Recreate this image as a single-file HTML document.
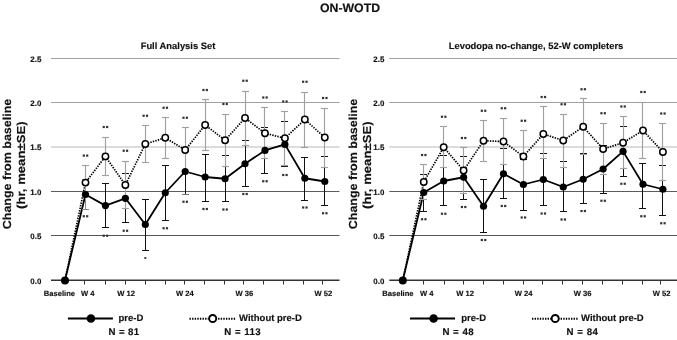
<!DOCTYPE html>
<html><head><meta charset="utf-8"><style>
html,body{margin:0;padding:0;background:#fff;width:677px;height:340px;overflow:hidden;}
svg{display:block;will-change:transform;font-family:"Liberation Sans", sans-serif;}
text{stroke:#111;stroke-width:0.15px;text-rendering:geometricPrecision;}
</style></head><body>
<svg width="677" height="340" viewBox="0 0 677 340" font-family='"Liberation Sans", sans-serif' fill="#111" stroke="none"><text x="350" y="11.5" text-anchor="middle" font-size="12.3" font-weight="bold">ON-WOTD</text>
<line x1="51" y1="58.5" x2="339.5" y2="58.5" stroke="#a0a0a0" stroke-width="1.2"/>
<line x1="51" y1="102.5" x2="339.5" y2="102.5" stroke="#a0a0a0" stroke-width="1.2"/>
<line x1="51" y1="147" x2="339.5" y2="147" stroke="#dcdcdc" stroke-width="1.9"/>
<line x1="51" y1="191.5" x2="339.5" y2="191.5" stroke="#5c5c5c" stroke-width="1"/>
<line x1="51" y1="235.5" x2="339.5" y2="235.5" stroke="#555" stroke-width="1"/>
<line x1="51" y1="280.2" x2="339.5" y2="280.2" stroke="#333" stroke-width="1.4"/>
<line x1="84.5" y1="280.2" x2="84.5" y2="284.5" stroke="#333" stroke-width="1"/>
<line x1="105.5" y1="280.2" x2="105.5" y2="284.5" stroke="#333" stroke-width="1"/>
<line x1="125.5" y1="280.2" x2="125.5" y2="284.5" stroke="#333" stroke-width="1"/>
<line x1="145.5" y1="280.2" x2="145.5" y2="284.5" stroke="#333" stroke-width="1"/>
<line x1="165.5" y1="280.2" x2="165.5" y2="284.5" stroke="#333" stroke-width="1"/>
<line x1="184.5" y1="280.2" x2="184.5" y2="284.5" stroke="#333" stroke-width="1"/>
<line x1="204.5" y1="280.2" x2="204.5" y2="284.5" stroke="#333" stroke-width="1"/>
<line x1="224.5" y1="280.2" x2="224.5" y2="284.5" stroke="#333" stroke-width="1"/>
<line x1="243.5" y1="280.2" x2="243.5" y2="284.5" stroke="#333" stroke-width="1"/>
<line x1="263.5" y1="280.2" x2="263.5" y2="284.5" stroke="#333" stroke-width="1"/>
<line x1="283.5" y1="280.2" x2="283.5" y2="284.5" stroke="#333" stroke-width="1"/>
<line x1="303.5" y1="280.2" x2="303.5" y2="284.5" stroke="#333" stroke-width="1"/>
<line x1="322.5" y1="280.2" x2="322.5" y2="284.5" stroke="#333" stroke-width="1"/>
<text x="41.3" y="61.8" text-anchor="end" font-size="7.9" font-weight="bold">2.5</text>
<text x="41.3" y="105.8" text-anchor="end" font-size="7.9" font-weight="bold">2.0</text>
<text x="41.3" y="150.2" text-anchor="end" font-size="7.9" font-weight="bold">1.5</text>
<text x="41.3" y="194.8" text-anchor="end" font-size="7.9" font-weight="bold">1.0</text>
<text x="41.3" y="238.8" text-anchor="end" font-size="7.9" font-weight="bold">0.5</text>
<text x="41.3" y="283.5" text-anchor="end" font-size="7.9" font-weight="bold">0.0</text>
<text x="178" y="48.8" text-anchor="middle" font-size="9.4" font-weight="bold">Full Analysis Set</text>
<text transform="translate(10.5,164) rotate(-90)" text-anchor="middle" font-size="11.6" font-weight="bold" textLength="130.5" lengthAdjust="spacingAndGlyphs">Change from baseline</text>
<text transform="translate(25.0,165.2) rotate(-90)" text-anchor="middle" font-size="11.6" font-weight="bold" textLength="87.5" lengthAdjust="spacingAndGlyphs">(hr, mean±SE)</text>
<text x="59.4" y="296.2" text-anchor="middle" font-size="7.6" font-weight="bold">Baseline</text>
<text x="87.7" y="296.2" text-anchor="middle" font-size="7.6" font-weight="bold">W 4</text>
<text x="126.2" y="296.2" text-anchor="middle" font-size="7.6" font-weight="bold">W 12</text>
<text x="184.9" y="296.2" text-anchor="middle" font-size="7.6" font-weight="bold">W 24</text>
<text x="244.4" y="296.2" text-anchor="middle" font-size="7.6" font-weight="bold">W 36</text>
<text x="323.3" y="296.2" text-anchor="middle" font-size="7.6" font-weight="bold">W 52</text>
<polyline fill="none" stroke="#000" stroke-width="1.8" stroke-linejoin="round" points="65,280.2 85.5,194.5 105.44,205.6 125.38,198.3 145.32,224.5 165.26,192.75 185.2,171.5 205.14,177 225.08,178.75 245.02,163.75 264.96,150.4 284.9,144.4 304.84,178.25 324.78,181.5"/>
<line x1="85.5" y1="179.8" x2="85.5" y2="209.2" stroke="#8a8a8a" stroke-width="1"/>
<line x1="82" y1="179.5" x2="89" y2="179.5" stroke="#8a8a8a" stroke-width="1"/>
<line x1="82" y1="209.5" x2="89" y2="209.5" stroke="#8a8a8a" stroke-width="1"/>
<line x1="105.5" y1="183.6" x2="105.5" y2="227.5" stroke="#111" stroke-width="1"/>
<line x1="102" y1="183.5" x2="109" y2="183.5" stroke="#111" stroke-width="1"/>
<line x1="102" y1="227.5" x2="109" y2="227.5" stroke="#111" stroke-width="1"/>
<line x1="125.5" y1="173.8" x2="125.5" y2="222.75" stroke="#111" stroke-width="1"/>
<line x1="122" y1="173.5" x2="129" y2="173.5" stroke="#111" stroke-width="1"/>
<line x1="122" y1="222.5" x2="129" y2="222.5" stroke="#111" stroke-width="1"/>
<line x1="145.5" y1="199.3" x2="145.5" y2="250.25" stroke="#111" stroke-width="1"/>
<line x1="142" y1="199.5" x2="149" y2="199.5" stroke="#111" stroke-width="1"/>
<line x1="142" y1="250.5" x2="149" y2="250.5" stroke="#111" stroke-width="1"/>
<line x1="165.5" y1="165.5" x2="165.5" y2="220.25" stroke="#111" stroke-width="1"/>
<line x1="162" y1="165.5" x2="169" y2="165.5" stroke="#111" stroke-width="1"/>
<line x1="162" y1="220.5" x2="169" y2="220.5" stroke="#111" stroke-width="1"/>
<line x1="185.5" y1="149" x2="185.5" y2="194" stroke="#111" stroke-width="1"/>
<line x1="182" y1="149.5" x2="189" y2="149.5" stroke="#777" stroke-width="1"/>
<line x1="182" y1="194.5" x2="189" y2="194.5" stroke="#777" stroke-width="1"/>
<line x1="205.5" y1="154.5" x2="205.5" y2="201" stroke="#111" stroke-width="1"/>
<line x1="202" y1="154.5" x2="209" y2="154.5" stroke="#111" stroke-width="1"/>
<line x1="202" y1="201.5" x2="209" y2="201.5" stroke="#111" stroke-width="1"/>
<line x1="225.5" y1="155.75" x2="225.5" y2="201.5" stroke="#111" stroke-width="1"/>
<line x1="222" y1="155.5" x2="229" y2="155.5" stroke="#111" stroke-width="1"/>
<line x1="222" y1="201.5" x2="229" y2="201.5" stroke="#111" stroke-width="1"/>
<line x1="245.5" y1="140.75" x2="245.5" y2="186.75" stroke="#111" stroke-width="1"/>
<line x1="242" y1="140.5" x2="249" y2="140.5" stroke="#111" stroke-width="1"/>
<line x1="242" y1="186.5" x2="249" y2="186.5" stroke="#111" stroke-width="1"/>
<line x1="264.5" y1="127.5" x2="264.5" y2="173.25" stroke="#111" stroke-width="1"/>
<line x1="261" y1="127.5" x2="268" y2="127.5" stroke="#111" stroke-width="1"/>
<line x1="261" y1="173.5" x2="268" y2="173.5" stroke="#111" stroke-width="1"/>
<line x1="284.5" y1="121" x2="284.5" y2="166.75" stroke="#111" stroke-width="1"/>
<line x1="281" y1="121.5" x2="288" y2="121.5" stroke="#111" stroke-width="1"/>
<line x1="281" y1="166.5" x2="288" y2="166.5" stroke="#111" stroke-width="1"/>
<line x1="304.5" y1="157.75" x2="304.5" y2="200.25" stroke="#111" stroke-width="1"/>
<line x1="301" y1="157.5" x2="308" y2="157.5" stroke="#111" stroke-width="1"/>
<line x1="301" y1="200.5" x2="308" y2="200.5" stroke="#111" stroke-width="1"/>
<line x1="324.5" y1="156" x2="324.5" y2="205.25" stroke="#111" stroke-width="1"/>
<line x1="321" y1="156.5" x2="328" y2="156.5" stroke="#111" stroke-width="1"/>
<line x1="321" y1="205.5" x2="328" y2="205.5" stroke="#111" stroke-width="1"/>
<polyline fill="none" stroke="#000" stroke-width="1.7" stroke-dasharray="1.4 1.2" points="65,280.2 85.5,182.6 105.44,156.4 125.38,185 145.32,144 165.26,137.75 185.2,150 205.14,125 225.08,140.25 245.02,118 264.96,133.25 284.9,138.25 304.84,119.5 324.78,137.5"/>
<line x1="85.5" y1="165.9" x2="85.5" y2="199.3" stroke="#a0a0a0" stroke-width="1.15"/>
<line x1="82" y1="165.5" x2="89" y2="165.5" stroke="#a0a0a0" stroke-width="1.15"/>
<line x1="105.5" y1="137" x2="105.5" y2="175.8" stroke="#a0a0a0" stroke-width="1.15"/>
<line x1="102" y1="137.5" x2="109" y2="137.5" stroke="#a0a0a0" stroke-width="1.15"/>
<line x1="102" y1="175.5" x2="109" y2="175.5" stroke="#a0a0a0" stroke-width="1.15"/>
<line x1="125.5" y1="161.25" x2="125.5" y2="208.75" stroke="#a0a0a0" stroke-width="1.15"/>
<line x1="122" y1="161.5" x2="129" y2="161.5" stroke="#a0a0a0" stroke-width="1.15"/>
<line x1="122" y1="208.5" x2="129" y2="208.5" stroke="#a0a0a0" stroke-width="1.15"/>
<line x1="145.5" y1="125.5" x2="145.5" y2="162.5" stroke="#a0a0a0" stroke-width="1.15"/>
<line x1="142" y1="125.5" x2="149" y2="125.5" stroke="#a0a0a0" stroke-width="1.15"/>
<line x1="142" y1="162.5" x2="149" y2="162.5" stroke="#a0a0a0" stroke-width="1.15"/>
<line x1="165.5" y1="117.5" x2="165.5" y2="158" stroke="#a0a0a0" stroke-width="1.15"/>
<line x1="162" y1="117.5" x2="169" y2="117.5" stroke="#a0a0a0" stroke-width="1.15"/>
<line x1="162" y1="158.5" x2="169" y2="158.5" stroke="#a0a0a0" stroke-width="1.15"/>
<line x1="185.5" y1="127.25" x2="185.5" y2="172.75" stroke="#a0a0a0" stroke-width="1.15"/>
<line x1="182" y1="127.5" x2="189" y2="127.5" stroke="#a0a0a0" stroke-width="1.15"/>
<line x1="182" y1="172.5" x2="189" y2="172.5" stroke="#a0a0a0" stroke-width="1.15"/>
<line x1="205.5" y1="99.5" x2="205.5" y2="150.5" stroke="#a0a0a0" stroke-width="1.15"/>
<line x1="202" y1="99.5" x2="209" y2="99.5" stroke="#a0a0a0" stroke-width="1.15"/>
<line x1="202" y1="150.5" x2="209" y2="150.5" stroke="#a0a0a0" stroke-width="1.15"/>
<line x1="225.5" y1="114" x2="225.5" y2="166.5" stroke="#a0a0a0" stroke-width="1.15"/>
<line x1="222" y1="114.5" x2="229" y2="114.5" stroke="#a0a0a0" stroke-width="1.15"/>
<line x1="222" y1="166.5" x2="229" y2="166.5" stroke="#a0a0a0" stroke-width="1.15"/>
<line x1="245.5" y1="91" x2="245.5" y2="145" stroke="#a0a0a0" stroke-width="1.15"/>
<line x1="242" y1="91.5" x2="249" y2="91.5" stroke="#a0a0a0" stroke-width="1.15"/>
<line x1="242" y1="145.5" x2="249" y2="145.5" stroke="#a0a0a0" stroke-width="1.15"/>
<line x1="264.5" y1="107.75" x2="264.5" y2="158.75" stroke="#a0a0a0" stroke-width="1.15"/>
<line x1="261" y1="107.5" x2="268" y2="107.5" stroke="#a0a0a0" stroke-width="1.15"/>
<line x1="261" y1="158.5" x2="268" y2="158.5" stroke="#a0a0a0" stroke-width="1.15"/>
<line x1="284.5" y1="111.25" x2="284.5" y2="165.25" stroke="#a0a0a0" stroke-width="1.15"/>
<line x1="281" y1="111.5" x2="288" y2="111.5" stroke="#a0a0a0" stroke-width="1.15"/>
<line x1="281" y1="165.5" x2="288" y2="165.5" stroke="#a0a0a0" stroke-width="1.15"/>
<line x1="304.5" y1="92" x2="304.5" y2="147" stroke="#a0a0a0" stroke-width="1.15"/>
<line x1="301" y1="92.5" x2="308" y2="92.5" stroke="#a0a0a0" stroke-width="1.15"/>
<line x1="301" y1="147.5" x2="308" y2="147.5" stroke="#a0a0a0" stroke-width="1.15"/>
<line x1="324.5" y1="108" x2="324.5" y2="167" stroke="#a0a0a0" stroke-width="1.15"/>
<line x1="321" y1="108.5" x2="328" y2="108.5" stroke="#a0a0a0" stroke-width="1.15"/>
<line x1="321" y1="167.5" x2="328" y2="167.5" stroke="#a0a0a0" stroke-width="1.15"/>
<circle cx="65" cy="280.4" r="4" fill="#000"/>
<circle cx="85.5" cy="194.5" r="3.6" fill="#000"/>
<circle cx="105.44" cy="205.6" r="3.6" fill="#000"/>
<circle cx="125.38" cy="198.3" r="3.6" fill="#000"/>
<circle cx="145.32" cy="224.5" r="3.6" fill="#000"/>
<circle cx="165.26" cy="192.75" r="3.6" fill="#000"/>
<circle cx="185.2" cy="171.5" r="3.6" fill="#000"/>
<circle cx="205.14" cy="177" r="3.6" fill="#000"/>
<circle cx="225.08" cy="178.75" r="3.6" fill="#000"/>
<circle cx="245.02" cy="163.75" r="3.6" fill="#000"/>
<circle cx="264.96" cy="150.4" r="3.6" fill="#000"/>
<circle cx="284.9" cy="144.4" r="3.6" fill="#000"/>
<circle cx="304.84" cy="178.25" r="3.6" fill="#000"/>
<circle cx="324.78" cy="181.5" r="3.6" fill="#000"/>
<circle cx="85.5" cy="182.6" r="3.2" fill="#fff" stroke="#000" stroke-width="1.5"/>
<circle cx="105.44" cy="156.4" r="3.2" fill="#fff" stroke="#000" stroke-width="1.5"/>
<circle cx="125.38" cy="185" r="3.2" fill="#fff" stroke="#000" stroke-width="1.5"/>
<circle cx="145.32" cy="144" r="3.2" fill="#fff" stroke="#000" stroke-width="1.5"/>
<circle cx="165.26" cy="137.75" r="3.2" fill="#fff" stroke="#000" stroke-width="1.5"/>
<circle cx="185.2" cy="150" r="3.2" fill="#fff" stroke="#000" stroke-width="1.5"/>
<circle cx="205.14" cy="125" r="3.2" fill="#fff" stroke="#000" stroke-width="1.5"/>
<circle cx="225.08" cy="140.25" r="3.2" fill="#fff" stroke="#000" stroke-width="1.5"/>
<circle cx="245.02" cy="118" r="3.2" fill="#fff" stroke="#000" stroke-width="1.5"/>
<circle cx="264.96" cy="133.25" r="3.2" fill="#fff" stroke="#000" stroke-width="1.5"/>
<circle cx="284.9" cy="138.25" r="3.2" fill="#fff" stroke="#000" stroke-width="1.5"/>
<circle cx="304.84" cy="119.5" r="3.2" fill="#fff" stroke="#000" stroke-width="1.5"/>
<circle cx="324.78" cy="137.5" r="3.2" fill="#fff" stroke="#000" stroke-width="1.5"/>
<rect x="82.7" y="215.15" width="2.2" height="2.2" fill="#333"/>
<rect x="86.1" y="215.15" width="2.2" height="2.2" fill="#333"/>
<rect x="82.7" y="154.5" width="2.2" height="2.2" fill="#333"/>
<rect x="86.1" y="154.5" width="2.2" height="2.2" fill="#333"/>
<rect x="102.64" y="234.65" width="2.2" height="2.2" fill="#333"/>
<rect x="106.04" y="234.65" width="2.2" height="2.2" fill="#333"/>
<rect x="102.64" y="125.9" width="2.2" height="2.2" fill="#333"/>
<rect x="106.04" y="125.9" width="2.2" height="2.2" fill="#333"/>
<rect x="122.58" y="229.65" width="2.2" height="2.2" fill="#333"/>
<rect x="125.98" y="229.65" width="2.2" height="2.2" fill="#333"/>
<rect x="122.58" y="149.65" width="2.2" height="2.2" fill="#333"/>
<rect x="125.98" y="149.65" width="2.2" height="2.2" fill="#333"/>
<rect x="144.32" y="257" width="2" height="2" fill="#444"/>
<rect x="142.52" y="114.65" width="2.2" height="2.2" fill="#333"/>
<rect x="145.92" y="114.65" width="2.2" height="2.2" fill="#333"/>
<rect x="162.46" y="227.15" width="2.2" height="2.2" fill="#333"/>
<rect x="165.86" y="227.15" width="2.2" height="2.2" fill="#333"/>
<rect x="162.46" y="106.65" width="2.2" height="2.2" fill="#333"/>
<rect x="165.86" y="106.65" width="2.2" height="2.2" fill="#333"/>
<rect x="182.4" y="200.65" width="2.2" height="2.2" fill="#333"/>
<rect x="185.8" y="200.65" width="2.2" height="2.2" fill="#333"/>
<rect x="182.4" y="116.65" width="2.2" height="2.2" fill="#333"/>
<rect x="185.8" y="116.65" width="2.2" height="2.2" fill="#333"/>
<rect x="202.34" y="207.9" width="2.2" height="2.2" fill="#333"/>
<rect x="205.74" y="207.9" width="2.2" height="2.2" fill="#333"/>
<rect x="202.34" y="88.9" width="2.2" height="2.2" fill="#333"/>
<rect x="205.74" y="88.9" width="2.2" height="2.2" fill="#333"/>
<rect x="222.28" y="208.4" width="2.2" height="2.2" fill="#333"/>
<rect x="225.68" y="208.4" width="2.2" height="2.2" fill="#333"/>
<rect x="222.28" y="102.9" width="2.2" height="2.2" fill="#333"/>
<rect x="225.68" y="102.9" width="2.2" height="2.2" fill="#333"/>
<rect x="242.22" y="192.9" width="2.2" height="2.2" fill="#333"/>
<rect x="245.62" y="192.9" width="2.2" height="2.2" fill="#333"/>
<rect x="242.22" y="79.65" width="2.2" height="2.2" fill="#333"/>
<rect x="245.62" y="79.65" width="2.2" height="2.2" fill="#333"/>
<rect x="262.16" y="180.15" width="2.2" height="2.2" fill="#333"/>
<rect x="265.56" y="180.15" width="2.2" height="2.2" fill="#333"/>
<rect x="262.16" y="96.4" width="2.2" height="2.2" fill="#333"/>
<rect x="265.56" y="96.4" width="2.2" height="2.2" fill="#333"/>
<rect x="282.1" y="173.9" width="2.2" height="2.2" fill="#333"/>
<rect x="285.5" y="173.9" width="2.2" height="2.2" fill="#333"/>
<rect x="282.1" y="100.4" width="2.2" height="2.2" fill="#333"/>
<rect x="285.5" y="100.4" width="2.2" height="2.2" fill="#333"/>
<rect x="302.04" y="206.4" width="2.2" height="2.2" fill="#333"/>
<rect x="305.44" y="206.4" width="2.2" height="2.2" fill="#333"/>
<rect x="302.04" y="80.65" width="2.2" height="2.2" fill="#333"/>
<rect x="305.44" y="80.65" width="2.2" height="2.2" fill="#333"/>
<rect x="321.98" y="212.15" width="2.2" height="2.2" fill="#333"/>
<rect x="325.38" y="212.15" width="2.2" height="2.2" fill="#333"/>
<rect x="321.98" y="96.9" width="2.2" height="2.2" fill="#333"/>
<rect x="325.38" y="96.9" width="2.2" height="2.2" fill="#333"/>
<line x1="389.3" y1="58.5" x2="677" y2="58.5" stroke="#a0a0a0" stroke-width="1.2"/>
<line x1="389.3" y1="102.5" x2="677" y2="102.5" stroke="#a0a0a0" stroke-width="1.2"/>
<line x1="389.3" y1="147" x2="677" y2="147" stroke="#dcdcdc" stroke-width="1.9"/>
<line x1="389.3" y1="191.5" x2="677" y2="191.5" stroke="#5c5c5c" stroke-width="1"/>
<line x1="389.3" y1="235.5" x2="677" y2="235.5" stroke="#555" stroke-width="1"/>
<line x1="389.3" y1="280.2" x2="677" y2="280.2" stroke="#333" stroke-width="1.4"/>
<line x1="423.5" y1="280.2" x2="423.5" y2="284.5" stroke="#333" stroke-width="1"/>
<line x1="444.5" y1="280.2" x2="444.5" y2="284.5" stroke="#333" stroke-width="1"/>
<line x1="463.5" y1="280.2" x2="463.5" y2="284.5" stroke="#333" stroke-width="1"/>
<line x1="483.5" y1="280.2" x2="483.5" y2="284.5" stroke="#333" stroke-width="1"/>
<line x1="503.5" y1="280.2" x2="503.5" y2="284.5" stroke="#333" stroke-width="1"/>
<line x1="523.5" y1="280.2" x2="523.5" y2="284.5" stroke="#333" stroke-width="1"/>
<line x1="542.5" y1="280.2" x2="542.5" y2="284.5" stroke="#333" stroke-width="1"/>
<line x1="562.5" y1="280.2" x2="562.5" y2="284.5" stroke="#333" stroke-width="1"/>
<line x1="582.5" y1="280.2" x2="582.5" y2="284.5" stroke="#333" stroke-width="1"/>
<line x1="602.5" y1="280.2" x2="602.5" y2="284.5" stroke="#333" stroke-width="1"/>
<line x1="622.5" y1="280.2" x2="622.5" y2="284.5" stroke="#333" stroke-width="1"/>
<line x1="642.5" y1="280.2" x2="642.5" y2="284.5" stroke="#333" stroke-width="1"/>
<line x1="660.5" y1="280.2" x2="660.5" y2="284.5" stroke="#333" stroke-width="1"/>
<text x="384.3" y="61.8" text-anchor="end" font-size="7.9" font-weight="bold">2.5</text>
<text x="384.3" y="105.8" text-anchor="end" font-size="7.9" font-weight="bold">2.0</text>
<text x="384.3" y="150.2" text-anchor="end" font-size="7.9" font-weight="bold">1.5</text>
<text x="384.3" y="194.8" text-anchor="end" font-size="7.9" font-weight="bold">1.0</text>
<text x="384.3" y="238.8" text-anchor="end" font-size="7.9" font-weight="bold">0.5</text>
<text x="384.3" y="283.5" text-anchor="end" font-size="7.9" font-weight="bold">0.0</text>
<text x="536" y="48.8" text-anchor="middle" font-size="9.4" font-weight="bold">Levodopa no-change, 52-W completers</text>
<text transform="translate(356.5,164) rotate(-90)" text-anchor="middle" font-size="11.6" font-weight="bold" textLength="130.5" lengthAdjust="spacingAndGlyphs">Change from baseline</text>
<text transform="translate(371.0,165.2) rotate(-90)" text-anchor="middle" font-size="11.6" font-weight="bold" textLength="87.5" lengthAdjust="spacingAndGlyphs">(hr, mean±SE)</text>
<text x="397.9" y="296.2" text-anchor="middle" font-size="7.6" font-weight="bold">Baseline</text>
<text x="426.7" y="296.2" text-anchor="middle" font-size="7.6" font-weight="bold">W 4</text>
<text x="465" y="296.2" text-anchor="middle" font-size="7.6" font-weight="bold">W 12</text>
<text x="523.5" y="296.2" text-anchor="middle" font-size="7.6" font-weight="bold">W 24</text>
<text x="582.7" y="296.2" text-anchor="middle" font-size="7.6" font-weight="bold">W 36</text>
<text x="661.7" y="296.2" text-anchor="middle" font-size="7.6" font-weight="bold">W 52</text>
<polyline fill="none" stroke="#000" stroke-width="1.8" stroke-linejoin="round" points="402.8,280.2 423.75,192.5 443.68,181 463.61,177.25 483.54,206.25 503.47,173.75 523.4,184.5 543.33,179.5 563.26,187 583.19,179.25 603.12,169 623.05,151.4 642.98,184.25 662.91,189.25"/>
<line x1="423.5" y1="174.8" x2="423.5" y2="211.25" stroke="#111" stroke-width="1"/>
<line x1="420" y1="174.5" x2="427" y2="174.5" stroke="#111" stroke-width="1"/>
<line x1="420" y1="211.5" x2="427" y2="211.5" stroke="#111" stroke-width="1"/>
<line x1="443.5" y1="155" x2="443.5" y2="205.75" stroke="#111" stroke-width="1"/>
<line x1="440" y1="155.5" x2="447" y2="155.5" stroke="#111" stroke-width="1"/>
<line x1="440" y1="205.5" x2="447" y2="205.5" stroke="#111" stroke-width="1"/>
<line x1="463.5" y1="156.25" x2="463.5" y2="199.25" stroke="#111" stroke-width="1"/>
<line x1="460" y1="156.5" x2="467" y2="156.5" stroke="#111" stroke-width="1"/>
<line x1="460" y1="199.5" x2="467" y2="199.5" stroke="#111" stroke-width="1"/>
<line x1="483.5" y1="179" x2="483.5" y2="232.2" stroke="#111" stroke-width="1"/>
<line x1="480" y1="179.5" x2="487" y2="179.5" stroke="#111" stroke-width="1"/>
<line x1="480" y1="232.5" x2="487" y2="232.5" stroke="#111" stroke-width="1"/>
<line x1="503.5" y1="148" x2="503.5" y2="198" stroke="#111" stroke-width="1"/>
<line x1="500" y1="148.5" x2="507" y2="148.5" stroke="#111" stroke-width="1"/>
<line x1="500" y1="198.5" x2="507" y2="198.5" stroke="#111" stroke-width="1"/>
<line x1="523.5" y1="159" x2="523.5" y2="210" stroke="#111" stroke-width="1"/>
<line x1="520" y1="159.5" x2="527" y2="159.5" stroke="#111" stroke-width="1"/>
<line x1="520" y1="210.5" x2="527" y2="210.5" stroke="#111" stroke-width="1"/>
<line x1="543.5" y1="153.75" x2="543.5" y2="205.25" stroke="#111" stroke-width="1"/>
<line x1="540" y1="153.5" x2="547" y2="153.5" stroke="#111" stroke-width="1"/>
<line x1="540" y1="205.5" x2="547" y2="205.5" stroke="#111" stroke-width="1"/>
<line x1="563.5" y1="161.75" x2="563.5" y2="211.25" stroke="#111" stroke-width="1"/>
<line x1="560" y1="161.5" x2="567" y2="161.5" stroke="#111" stroke-width="1"/>
<line x1="560" y1="211.5" x2="567" y2="211.5" stroke="#111" stroke-width="1"/>
<line x1="583.5" y1="153" x2="583.5" y2="203.5" stroke="#111" stroke-width="1"/>
<line x1="580" y1="153.5" x2="587" y2="153.5" stroke="#111" stroke-width="1"/>
<line x1="580" y1="203.5" x2="587" y2="203.5" stroke="#111" stroke-width="1"/>
<line x1="603.5" y1="145" x2="603.5" y2="193" stroke="#111" stroke-width="1"/>
<line x1="600" y1="145.5" x2="607" y2="145.5" stroke="#111" stroke-width="1"/>
<line x1="600" y1="193.5" x2="607" y2="193.5" stroke="#111" stroke-width="1"/>
<line x1="623.5" y1="126.25" x2="623.5" y2="176" stroke="#111" stroke-width="1"/>
<line x1="620" y1="126.5" x2="627" y2="126.5" stroke="#111" stroke-width="1"/>
<line x1="620" y1="176.5" x2="627" y2="176.5" stroke="#111" stroke-width="1"/>
<line x1="642.5" y1="163.4" x2="642.5" y2="208.25" stroke="#111" stroke-width="1"/>
<line x1="639" y1="163.5" x2="646" y2="163.5" stroke="#111" stroke-width="1"/>
<line x1="639" y1="208.5" x2="646" y2="208.5" stroke="#111" stroke-width="1"/>
<line x1="662.5" y1="165.8" x2="662.5" y2="215.25" stroke="#111" stroke-width="1"/>
<line x1="659" y1="165.5" x2="666" y2="165.5" stroke="#111" stroke-width="1"/>
<line x1="659" y1="215.5" x2="666" y2="215.5" stroke="#111" stroke-width="1"/>
<polyline fill="none" stroke="#000" stroke-width="1.7" stroke-dasharray="1.4 1.2" points="402.8,280.2 423.75,182 443.68,147.25 463.61,170.5 483.54,140.75 503.47,141.5 523.4,156.5 543.33,134 563.26,140.5 583.19,126.75 603.12,149 623.05,142.75 642.98,130.5 662.91,152"/>
<line x1="423.5" y1="164.5" x2="423.5" y2="199.5" stroke="#a0a0a0" stroke-width="1.15"/>
<line x1="420" y1="164.5" x2="427" y2="164.5" stroke="#a0a0a0" stroke-width="1.15"/>
<line x1="420" y1="199.5" x2="427" y2="199.5" stroke="#a0a0a0" stroke-width="1.15"/>
<line x1="443.5" y1="126.75" x2="443.5" y2="167.75" stroke="#a0a0a0" stroke-width="1.15"/>
<line x1="440" y1="126.5" x2="447" y2="126.5" stroke="#a0a0a0" stroke-width="1.15"/>
<line x1="440" y1="167.5" x2="447" y2="167.5" stroke="#a0a0a0" stroke-width="1.15"/>
<line x1="463.5" y1="147.75" x2="463.5" y2="193.25" stroke="#a0a0a0" stroke-width="1.15"/>
<line x1="460" y1="147.5" x2="467" y2="147.5" stroke="#a0a0a0" stroke-width="1.15"/>
<line x1="460" y1="193.5" x2="467" y2="193.5" stroke="#a0a0a0" stroke-width="1.15"/>
<line x1="483.5" y1="120.25" x2="483.5" y2="161.25" stroke="#a0a0a0" stroke-width="1.15"/>
<line x1="480" y1="120.5" x2="487" y2="120.5" stroke="#a0a0a0" stroke-width="1.15"/>
<line x1="480" y1="161.5" x2="487" y2="161.5" stroke="#a0a0a0" stroke-width="1.15"/>
<line x1="503.5" y1="118.5" x2="503.5" y2="164.5" stroke="#a0a0a0" stroke-width="1.15"/>
<line x1="500" y1="118.5" x2="507" y2="118.5" stroke="#a0a0a0" stroke-width="1.15"/>
<line x1="500" y1="164.5" x2="507" y2="164.5" stroke="#a0a0a0" stroke-width="1.15"/>
<line x1="523.5" y1="130.75" x2="523.5" y2="182.25" stroke="#a0a0a0" stroke-width="1.15"/>
<line x1="520" y1="130.5" x2="527" y2="130.5" stroke="#a0a0a0" stroke-width="1.15"/>
<line x1="520" y1="182.5" x2="527" y2="182.5" stroke="#a0a0a0" stroke-width="1.15"/>
<line x1="543.5" y1="106.5" x2="543.5" y2="158.1" stroke="#a0a0a0" stroke-width="1.15"/>
<line x1="540" y1="106.5" x2="547" y2="106.5" stroke="#a0a0a0" stroke-width="1.15"/>
<line x1="540" y1="158.5" x2="547" y2="158.5" stroke="#a0a0a0" stroke-width="1.15"/>
<line x1="563.5" y1="114" x2="563.5" y2="167" stroke="#a0a0a0" stroke-width="1.15"/>
<line x1="560" y1="114.5" x2="567" y2="114.5" stroke="#a0a0a0" stroke-width="1.15"/>
<line x1="560" y1="167.5" x2="567" y2="167.5" stroke="#a0a0a0" stroke-width="1.15"/>
<line x1="583.5" y1="98.75" x2="583.5" y2="154.75" stroke="#a0a0a0" stroke-width="1.15"/>
<line x1="580" y1="98.5" x2="587" y2="98.5" stroke="#a0a0a0" stroke-width="1.15"/>
<line x1="580" y1="154.5" x2="587" y2="154.5" stroke="#a0a0a0" stroke-width="1.15"/>
<line x1="603.5" y1="123.75" x2="603.5" y2="174.25" stroke="#a0a0a0" stroke-width="1.15"/>
<line x1="600" y1="123.5" x2="607" y2="123.5" stroke="#a0a0a0" stroke-width="1.15"/>
<line x1="600" y1="174.5" x2="607" y2="174.5" stroke="#a0a0a0" stroke-width="1.15"/>
<line x1="623.5" y1="116.75" x2="623.5" y2="168.75" stroke="#a0a0a0" stroke-width="1.15"/>
<line x1="620" y1="116.5" x2="627" y2="116.5" stroke="#a0a0a0" stroke-width="1.15"/>
<line x1="620" y1="168.5" x2="627" y2="168.5" stroke="#a0a0a0" stroke-width="1.15"/>
<line x1="642.5" y1="102.5" x2="642.5" y2="158.5" stroke="#a0a0a0" stroke-width="1.15"/>
<line x1="639" y1="102.5" x2="646" y2="102.5" stroke="#a0a0a0" stroke-width="1.15"/>
<line x1="639" y1="158.5" x2="646" y2="158.5" stroke="#a0a0a0" stroke-width="1.15"/>
<line x1="662.5" y1="123.75" x2="662.5" y2="180.25" stroke="#a0a0a0" stroke-width="1.15"/>
<line x1="659" y1="123.5" x2="666" y2="123.5" stroke="#a0a0a0" stroke-width="1.15"/>
<line x1="659" y1="180.5" x2="666" y2="180.5" stroke="#a0a0a0" stroke-width="1.15"/>
<circle cx="402.8" cy="280.4" r="4" fill="#000"/>
<circle cx="423.75" cy="192.5" r="3.6" fill="#000"/>
<circle cx="443.68" cy="181" r="3.6" fill="#000"/>
<circle cx="463.61" cy="177.25" r="3.6" fill="#000"/>
<circle cx="483.54" cy="206.25" r="3.6" fill="#000"/>
<circle cx="503.47" cy="173.75" r="3.6" fill="#000"/>
<circle cx="523.4" cy="184.5" r="3.6" fill="#000"/>
<circle cx="543.33" cy="179.5" r="3.6" fill="#000"/>
<circle cx="563.26" cy="187" r="3.6" fill="#000"/>
<circle cx="583.19" cy="179.25" r="3.6" fill="#000"/>
<circle cx="603.12" cy="169" r="3.6" fill="#000"/>
<circle cx="623.05" cy="151.4" r="3.6" fill="#000"/>
<circle cx="642.98" cy="184.25" r="3.6" fill="#000"/>
<circle cx="662.91" cy="189.25" r="3.6" fill="#000"/>
<circle cx="423.75" cy="182" r="3.2" fill="#fff" stroke="#000" stroke-width="1.5"/>
<circle cx="443.68" cy="147.25" r="3.2" fill="#fff" stroke="#000" stroke-width="1.5"/>
<circle cx="463.61" cy="170.5" r="3.2" fill="#fff" stroke="#000" stroke-width="1.5"/>
<circle cx="483.54" cy="140.75" r="3.2" fill="#fff" stroke="#000" stroke-width="1.5"/>
<circle cx="503.47" cy="141.5" r="3.2" fill="#fff" stroke="#000" stroke-width="1.5"/>
<circle cx="523.4" cy="156.5" r="3.2" fill="#fff" stroke="#000" stroke-width="1.5"/>
<circle cx="543.33" cy="134" r="3.2" fill="#fff" stroke="#000" stroke-width="1.5"/>
<circle cx="563.26" cy="140.5" r="3.2" fill="#fff" stroke="#000" stroke-width="1.5"/>
<circle cx="583.19" cy="126.75" r="3.2" fill="#fff" stroke="#000" stroke-width="1.5"/>
<circle cx="603.12" cy="149" r="3.2" fill="#fff" stroke="#000" stroke-width="1.5"/>
<circle cx="623.05" cy="142.75" r="3.2" fill="#fff" stroke="#000" stroke-width="1.5"/>
<circle cx="642.98" cy="130.5" r="3.2" fill="#fff" stroke="#000" stroke-width="1.5"/>
<circle cx="662.91" cy="152" r="3.2" fill="#fff" stroke="#000" stroke-width="1.5"/>
<rect x="420.95" y="218.15" width="2.2" height="2.2" fill="#333"/>
<rect x="424.35" y="218.15" width="2.2" height="2.2" fill="#333"/>
<rect x="420.95" y="153.9" width="2.2" height="2.2" fill="#333"/>
<rect x="424.35" y="153.9" width="2.2" height="2.2" fill="#333"/>
<rect x="440.88" y="212.65" width="2.2" height="2.2" fill="#333"/>
<rect x="444.28" y="212.65" width="2.2" height="2.2" fill="#333"/>
<rect x="440.88" y="115.65" width="2.2" height="2.2" fill="#333"/>
<rect x="444.28" y="115.65" width="2.2" height="2.2" fill="#333"/>
<rect x="460.81" y="205.9" width="2.2" height="2.2" fill="#333"/>
<rect x="464.21" y="205.9" width="2.2" height="2.2" fill="#333"/>
<rect x="460.81" y="136.9" width="2.2" height="2.2" fill="#333"/>
<rect x="464.21" y="136.9" width="2.2" height="2.2" fill="#333"/>
<rect x="480.74" y="238.9" width="2.2" height="2.2" fill="#333"/>
<rect x="484.14" y="238.9" width="2.2" height="2.2" fill="#333"/>
<rect x="480.74" y="109.65" width="2.2" height="2.2" fill="#333"/>
<rect x="484.14" y="109.65" width="2.2" height="2.2" fill="#333"/>
<rect x="500.67" y="204.9" width="2.2" height="2.2" fill="#333"/>
<rect x="504.07" y="204.9" width="2.2" height="2.2" fill="#333"/>
<rect x="500.67" y="107.15" width="2.2" height="2.2" fill="#333"/>
<rect x="504.07" y="107.15" width="2.2" height="2.2" fill="#333"/>
<rect x="520.6" y="216.4" width="2.2" height="2.2" fill="#333"/>
<rect x="524" y="216.4" width="2.2" height="2.2" fill="#333"/>
<rect x="520.6" y="119.65" width="2.2" height="2.2" fill="#333"/>
<rect x="524" y="119.65" width="2.2" height="2.2" fill="#333"/>
<rect x="540.53" y="212.4" width="2.2" height="2.2" fill="#333"/>
<rect x="543.93" y="212.4" width="2.2" height="2.2" fill="#333"/>
<rect x="540.53" y="95.9" width="2.2" height="2.2" fill="#333"/>
<rect x="543.93" y="95.9" width="2.2" height="2.2" fill="#333"/>
<rect x="560.46" y="218.4" width="2.2" height="2.2" fill="#333"/>
<rect x="563.86" y="218.4" width="2.2" height="2.2" fill="#333"/>
<rect x="560.46" y="103.15" width="2.2" height="2.2" fill="#333"/>
<rect x="563.86" y="103.15" width="2.2" height="2.2" fill="#333"/>
<rect x="580.39" y="209.9" width="2.2" height="2.2" fill="#333"/>
<rect x="583.79" y="209.9" width="2.2" height="2.2" fill="#333"/>
<rect x="580.39" y="88.15" width="2.2" height="2.2" fill="#333"/>
<rect x="583.79" y="88.15" width="2.2" height="2.2" fill="#333"/>
<rect x="600.32" y="199.65" width="2.2" height="2.2" fill="#333"/>
<rect x="603.72" y="199.65" width="2.2" height="2.2" fill="#333"/>
<rect x="600.32" y="112.15" width="2.2" height="2.2" fill="#333"/>
<rect x="603.72" y="112.15" width="2.2" height="2.2" fill="#333"/>
<rect x="620.25" y="182.65" width="2.2" height="2.2" fill="#333"/>
<rect x="623.65" y="182.65" width="2.2" height="2.2" fill="#333"/>
<rect x="620.25" y="105.4" width="2.2" height="2.2" fill="#333"/>
<rect x="623.65" y="105.4" width="2.2" height="2.2" fill="#333"/>
<rect x="640.18" y="215.15" width="2.2" height="2.2" fill="#333"/>
<rect x="643.58" y="215.15" width="2.2" height="2.2" fill="#333"/>
<rect x="640.18" y="90.9" width="2.2" height="2.2" fill="#333"/>
<rect x="643.58" y="90.9" width="2.2" height="2.2" fill="#333"/>
<rect x="660.11" y="222.15" width="2.2" height="2.2" fill="#333"/>
<rect x="663.51" y="222.15" width="2.2" height="2.2" fill="#333"/>
<rect x="660.11" y="112.4" width="2.2" height="2.2" fill="#333"/>
<rect x="663.51" y="112.4" width="2.2" height="2.2" fill="#333"/>
<line x1="67.9" y1="318.5" x2="112.9" y2="318.5" stroke="#000" stroke-width="2"/>
<circle cx="90.9" cy="318.5" r="4.3" fill="#000"/>
<text x="118.5" y="321.3" font-size="9.5" font-weight="bold">pre-D</text>
<text x="108.4" y="335.4" font-size="9.7" font-weight="bold" textLength="30.8" lengthAdjust="spacing">N = 81</text>
<line x1="189.5" y1="318.8" x2="235.5" y2="318.8" stroke="#000" stroke-width="1.9" stroke-dasharray="1.4 1.2"/>
<circle cx="212.7" cy="318.5" r="4.2" fill="#fff"/>
<circle cx="212.7" cy="318.5" r="3.55" fill="#fff" stroke="#000" stroke-width="1.9"/>
<text x="239.1" y="321.3" font-size="9.5" font-weight="bold">Without pre-D</text>
<text x="224.3" y="335.4" font-size="9.7" font-weight="bold" textLength="36.4" lengthAdjust="spacing">N = 113</text>
<line x1="410" y1="318.5" x2="455" y2="318.5" stroke="#000" stroke-width="2"/>
<circle cx="433.6" cy="318.5" r="4.3" fill="#000"/>
<text x="461.2" y="321.3" font-size="9.5" font-weight="bold">pre-D</text>
<text x="442.4" y="335.4" font-size="9.7" font-weight="bold" textLength="31.3" lengthAdjust="spacing">N = 48</text>
<line x1="532" y1="318.8" x2="578" y2="318.8" stroke="#000" stroke-width="1.9" stroke-dasharray="1.4 1.2"/>
<circle cx="555.2" cy="318.5" r="4.2" fill="#fff"/>
<circle cx="555.2" cy="318.5" r="3.55" fill="#fff" stroke="#000" stroke-width="1.9"/>
<text x="581" y="321.3" font-size="9.5" font-weight="bold">Without pre-D</text>
<text x="566.5" y="335.4" font-size="9.7" font-weight="bold" textLength="31.5" lengthAdjust="spacing">N = 84</text></svg>
</body></html>
